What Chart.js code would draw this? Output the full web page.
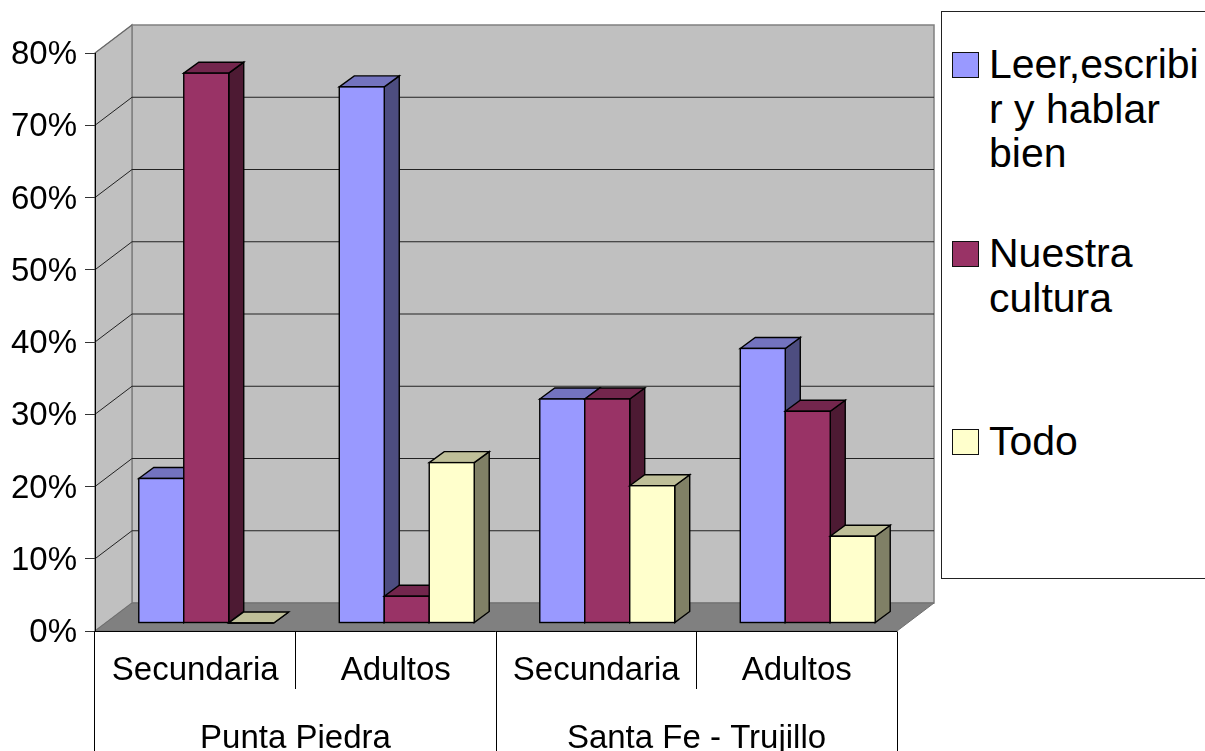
<!DOCTYPE html>
<html lang="es">
<head>
<meta charset="utf-8">
<title>Punta Piedra / Santa Fe - Trujillo</title>
<script src="https://cdn.jsdelivr.net/npm/chart.js@4/dist/chart.umd.min.js"></script>
<style>
    html, body { margin: 0; padding: 0; background: #fff; overflow: hidden; }
    #wrap { position: relative; width: 1205px; height: 751px; overflow: hidden; }
    canvas { display: block; }
    #legendBox {
        position: absolute; left: 941px; top: 11px; width: 280px; height: 568px;
        box-sizing: border-box; border: 1px solid #222; background: #fff;
        font: 41px/44.5px "Liberation Sans", Arial, sans-serif; color: #000;
    }
    .legend-item { position: absolute; left: 47px; white-space: nowrap; }
    .legend-swatch {
        position: absolute; left: -37px; top: 10px; width: 27px; height: 26px;
        box-sizing: border-box; border: 1.5px solid #111;
    }
</style>
</head>
<body>
<div id="wrap">
    <canvas id="chart" width="1205" height="751"></canvas>
    <div id="legendBox"></div>
</div>
<script>
// Data
const categories = ['Secundaria', 'Adultos', 'Secundaria', 'Adultos'];
const groups = ['Punta Piedra', 'Santa Fe - Trujillo'];
const seriesNames = ['Leer,escribir y hablar bien', 'Nuestra cultura', 'Todo'];
const leerValues = [20, 74.2, 31, 38];
const culturaValues = [76.1, 3.7, 31, 29.3];
const todoValues = [0, 22.2, 19, 12];

// Legend text wraps the way the box forces it to
const legendLines = [['Leer,escribi', 'r y hablar', 'bien'], ['Nuestra', 'cultura'], ['Todo']];
const legendTops = [30, 219, 407];

// Colours
const frontColors = ['#9999ff', '#993366', '#ffffcc'];
const sideColors = ['#4d4d80', '#4d1a33', '#808066'];
const topColors = ['#7373bf', '#73264d', '#bfbf99'];

// 3D depth of the box and of the bars
const WALL_DX = 37, WALL_DY = -28;
const BAR_SHIFT_X = 11, BAR_SHIFT_Y = -8;
const BAR_DX = 15, BAR_DY = -11;
const EDGE = 1.4;

function poly(ctx, points, fill, stroke, width) {
    ctx.beginPath();
    points.forEach(([x, y], i) => i ? ctx.lineTo(x, y) : ctx.moveTo(x, y));
    ctx.closePath();
    ctx.fillStyle = fill;
    ctx.fill();
    ctx.strokeStyle = stroke;
    ctx.lineWidth = width;
    ctx.stroke();
}

const boxPlugin = {
    id: 'box3d',
    // y tick labels sit a touch below the tick
    afterLayout(chart) {
        const y = chart.scales.y;
        const drawLabels = y.drawLabels;
        y.drawLabels = function (area) {
            chart.ctx.save();
            chart.ctx.translate(0, 2);
            drawLabels.call(this, area);
            chart.ctx.restore();
        };
    },
    // Walls, floor and grid behind everything
    beforeDraw(chart) {
        const { ctx, chartArea: a, scales: { y } } = chart;
        const backLeft = a.left + WALL_DX, backRight = a.right + WALL_DX;
        const top = a.top + WALL_DY, bottom = a.bottom + WALL_DY;
        ctx.save();
        poly(ctx, [[backLeft, top], [backRight, top], [backRight, bottom], [backLeft, bottom]], '#c0c0c0', '#808080', 1.5);
        poly(ctx, [[a.left, a.top], [backLeft, top], [backLeft, bottom], [a.left, a.bottom]], '#c0c0c0', '#808080', 1.5);
        poly(ctx, [[a.left, a.bottom], [a.right, a.bottom], [backRight, bottom], [backLeft, bottom]], '#808080', '#6e6e6e', 1);

        // grid lines run along the side wall and then the back wall
        ctx.strokeStyle = '#222';
        ctx.lineWidth = 1;
        y.ticks.forEach(t => {
            if (t.value === 0 || t.value === 80) return;
            const py = y.getPixelForValue(t.value);
            ctx.beginPath();
            ctx.moveTo(a.left, py);
            ctx.lineTo(backLeft, py + WALL_DY);
            ctx.lineTo(backRight, py + WALL_DY);
            ctx.stroke();
        });
        ctx.strokeStyle = '#666';
        ctx.beginPath();
        ctx.moveTo(a.left, a.top);
        ctx.lineTo(backLeft, top);
        ctx.stroke();
        ctx.restore();
    },
    // Bars go first series first, so each front covers the side of the one before
    beforeDatasetsDraw(chart) {
        const { ctx } = chart;
        ctx.save();
        ctx.translate(BAR_SHIFT_X, BAR_SHIFT_Y);
        chart.data.datasets.forEach((ds, d) => {
            chart.getDatasetMeta(d).data.forEach(bar => {
                const { x, y, base, width } = bar.getProps(['x', 'y', 'base', 'width'], true);
                const l = x - width / 2, r = x + width / 2;
                poly(ctx, [[r, y], [r + BAR_DX, y + BAR_DY], [r + BAR_DX, base + BAR_DY], [r, base]], sideColors[d], '#000', EDGE);
                poly(ctx, [[l, y], [l + BAR_DX, y + BAR_DY], [r + BAR_DX, y + BAR_DY], [r, y]], topColors[d], '#000', EDGE);
                bar.draw(ctx);
                ctx.strokeStyle = '#000';
                ctx.lineWidth = EDGE;
                ctx.strokeRect(l, y, width, base - y);
            });
        });
        ctx.restore();
        return false;
    },
    // Separators of the two label rows under the axis
    afterDraw(chart) {
        const { ctx, chartArea: a, scales: { x, x2 } } = chart;
        const axisY = a.bottom + 0.5;
        ctx.save();
        ctx.strokeStyle = '#000';
        ctx.lineWidth = 1;
        ctx.beginPath();
        ctx.moveTo(a.left - 0.5, axisY);
        ctx.lineTo(a.right, axisY);
        categories.forEach((c, i) => {
            if (i === 0) return;
            const px = Math.floor((x.getPixelForTick(i - 1) + x.getPixelForTick(i)) / 2) + 0.5;
            ctx.moveTo(px, axisY);
            ctx.lineTo(px, x.bottom - 2);
        });
        const mid = Math.floor((x2.getPixelForTick(0) + x2.getPixelForTick(1)) / 2) + 0.5;
        [a.left - 0.5, mid, a.right + 0.5].forEach(px => {
            ctx.moveTo(px, axisY);
            ctx.lineTo(px, chart.height);
        });
        ctx.stroke();
        ctx.restore();
    }
};

Chart.defaults.font.family = '"Liberation Sans", Arial, sans-serif';
Chart.defaults.font.size = 33;
Chart.defaults.color = '#000';

const leerDataset = { label: seriesNames[0], data: leerValues };
const culturaDataset = { label: seriesNames[1], data: culturaValues };
const todoDataset = { label: seriesNames[2], data: todoValues };

new Chart(document.getElementById('chart').getContext('2d'), {
    type: 'bar',
    data: {
        labels: categories,
        datasets: [leerDataset, culturaDataset, todoDataset].map((ds, i) => ({
            ...ds,
            backgroundColor: frontColors[i],
            borderWidth: 0,
            barPercentage: 1,
            categoryPercentage: 0.673
        }))
    },
    options: {
        responsive: false,
        animation: false,
        layout: { padding: { top: 53, right: 308 } },
        plugins: { legend: { display: false }, tooltip: { enabled: false } },
        scales: {
            y: {
                min: 0,
                max: 80,
                ticks: { stepSize: 10, padding: 8, callback: v => v + '%' },
                grid: { drawOnChartArea: false, tickLength: 10, color: '#333' },
                border: { display: true, color: '#000' },
                afterFit: s => { s.width = 95; }
            },
            x: {
                position: 'bottom',
                ticks: { padding: 12.5, maxRotation: 0, autoSkip: false },
                grid: { display: false },
                border: { display: false },
                afterFit: s => { s.height = 60; }
            },
            x2: {
                type: 'category',
                position: 'bottom',
                labels: groups,
                ticks: { padding: 20.5, maxRotation: 0, autoSkip: false },
                grid: { display: false },
                border: { display: false },
                afterFit: s => { s.height = 60; }
            }
        }
    },
    plugins: [boxPlugin]
});

// Legend box
const legendBox = document.getElementById('legendBox');
legendLines.forEach((lines, i) => {
    const item = document.createElement('div');
    item.className = 'legend-item';
    item.style.top = legendTops[i] + 'px';
    item.innerHTML = `<span class="legend-swatch" style="background:${frontColors[i]}"></span>${lines.join('<br>')}`;
    legendBox.appendChild(item);
});
</script>
</body>
</html>
